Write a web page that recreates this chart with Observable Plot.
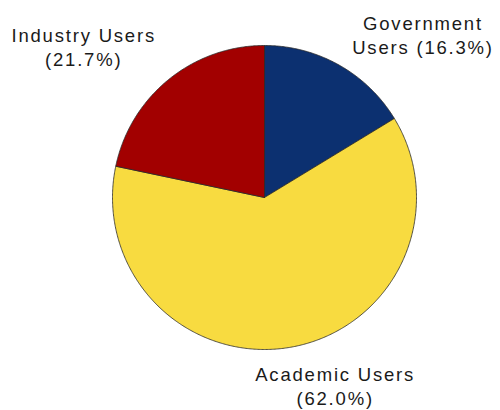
<!DOCTYPE html>
<html>
<head>
<meta charset="utf-8">
<script src="https://cdn.jsdelivr.net/npm/d3@7"></script>
<script src="https://cdn.jsdelivr.net/npm/@observablehq/plot@0.6"></script>
<style>
  html, body { margin: 0; padding: 0; background: #fff; }
</style>
</head>
<body>
<div id="chart"></div>
<script>
const categories = ["Government Users", "Academic Users", "Industry Users"];
const shares = [16.3, 62.0, 21.7];
const labels = ["Government\nUsers (16.3%)", "Academic Users\n(62.0%)", "Industry Users\n(21.7%)"];
const colors = ["#0c3070", "#f8db40", "#a20000"];
// label offsets (pixels) from the slice's outer mid point
const labelOffsets = [[84, -31], [45, 38], [-85, -33]];

// build slice polygons in unit-circle coordinates (clockwise from 12 o'clock)
const total = d3.sum(shares);
let acc = 0;
const slices = categories.map((c, i) => {
  const a0 = acc / total * 2 * Math.PI;
  acc += shares[i];
  const a1 = acc / total * 2 * Math.PI;
  return {cat: c, a0, a1, mid: (a0 + a1) / 2, label: labels[i]};
});
const pts = [];
for (const s of slices) {
  pts.push({cat: s.cat, x: 0, y: 0});
  const n = Math.max(2, Math.ceil((s.a1 - s.a0) / (Math.PI / 360)));
  for (let k = 0; k <= n; k++) {
    const a = s.a0 + (s.a1 - s.a0) * k / n;
    pts.push({cat: s.cat, x: Math.sin(a), y: Math.cos(a)});
  }
  pts.push({cat: s.cat, x: 0, y: 0});
}

const labelMarks = slices.map((s, i) => Plot.text([s], {
  x: d => Math.sin(d.mid),
  y: d => Math.cos(d.mid),
  text: "label",
  dx: labelOffsets[i][0],
  dy: labelOffsets[i][1],
  textAnchor: "middle",
  lineHeight: 1.3,
  fill: "#1a1a1a",
  fontSize: 18.5
}));

const chart = Plot.plot({
  width: 500,
  height: 410,
  margin: 0,
  style: {fontFamily: "'Liberation Sans', Arial, sans-serif", letterSpacing: "1.8px", background: "#fff"},
  x: {domain: [-1, 1], range: [112, 416], axis: null},
  y: {domain: [-1, 1], range: [349, 45], axis: null},
  color: {domain: categories, range: colors},
  marks: [
    Plot.line(pts, {x: "x", y: "y", z: "cat", fill: "cat", stroke: "#2a2a2a", strokeWidth: 0.8, curve: "linear"}),
    ...labelMarks
  ]
});
document.getElementById("chart").appendChild(chart);
</script>
</body>
</html>
